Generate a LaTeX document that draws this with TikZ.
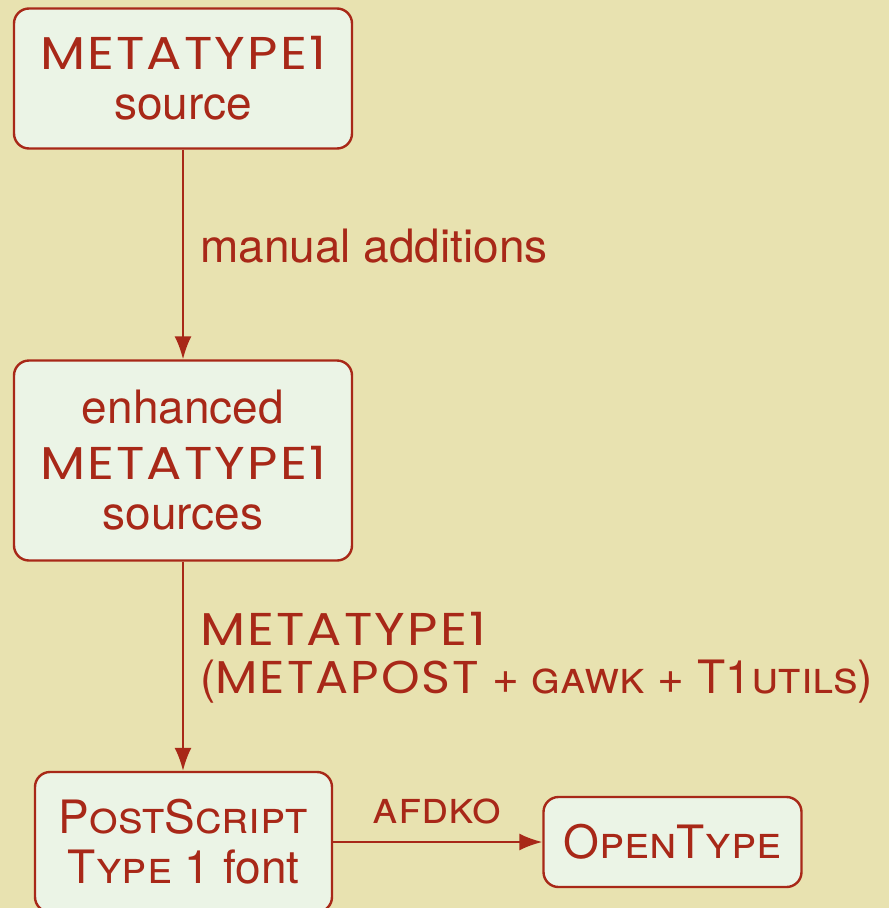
\documentclass[tikz,border=0pt]{standalone}
\usepackage{fontspec}
\setmainfont{TeX Gyre Heros}
\newfontfamily\logofont{Poppins}[LetterSpace=4]
\usetikzlibrary{arrows.meta}
\definecolor{bgc}{RGB}{232,226,176}
\definecolor{boxc}{RGB}{235,244,230}
\definecolor{redc}{RGB}{168,40,24}
\newcommand{\mtlogo}{\scalebox{1.14}[1]{\logofont METATYPE1}}
\newcommand{\mplogo}{\scalebox{1.07}[1]{\logofont METAPOST}}
\begin{document}
\begin{tikzpicture}[x=1pt,y=-1pt,
  box/.style={draw=redc,fill=boxc,line width=2.4pt,rounded corners=15pt,
    text=redc,align=center,inner sep=0pt},
  conn/.style={draw=redc,line width=2pt,-{Latex[length=23pt,width=17pt]}},
  lbl/.style={text=redc,inner sep=0pt}]
\fill[bgc] (0,0) rectangle (889,908);
\useasboundingbox (0,0) rectangle (889,908);
\fontsize{46}{50}\selectfont
\node[box,minimum width=338pt,minimum height=140pt] (src) at (183,78.5)
  {\mtlogo\\source};
\node[box,minimum width=338pt,minimum height=200pt] (enh) at (183,460.5)
  {enhanced\\[6pt]\mtlogo\\sources};
\node[box,minimum width=297pt,minimum height=140pt] (ps) at (183.5,842)
  {\textsc{PostScript}\\\textsc{Type} 1 font};
\node[box,minimum width=258pt,minimum height=90pt] (ot) at (672.5,842)
  {\textsc{OpenType}};
\draw[conn] (src) -- (enh);
\draw[conn] (enh) -- (ps.north-|enh.south);
\draw[conn] (ps) -- (ot);
\node[lbl,anchor=base west] (l1) at (200,262) {manual additions};
\node[lbl,anchor=base west] (l2) at (200,645) {\mtlogo};
\node[lbl,anchor=base west] (l3) at (200,693) {(\mplogo{} + \textsc{gawk} + T1\textsc{utils})};
\node[lbl,anchor=base] (l4) at (437,823) {\textsc{afdko}};
\end{tikzpicture}
\end{document}
